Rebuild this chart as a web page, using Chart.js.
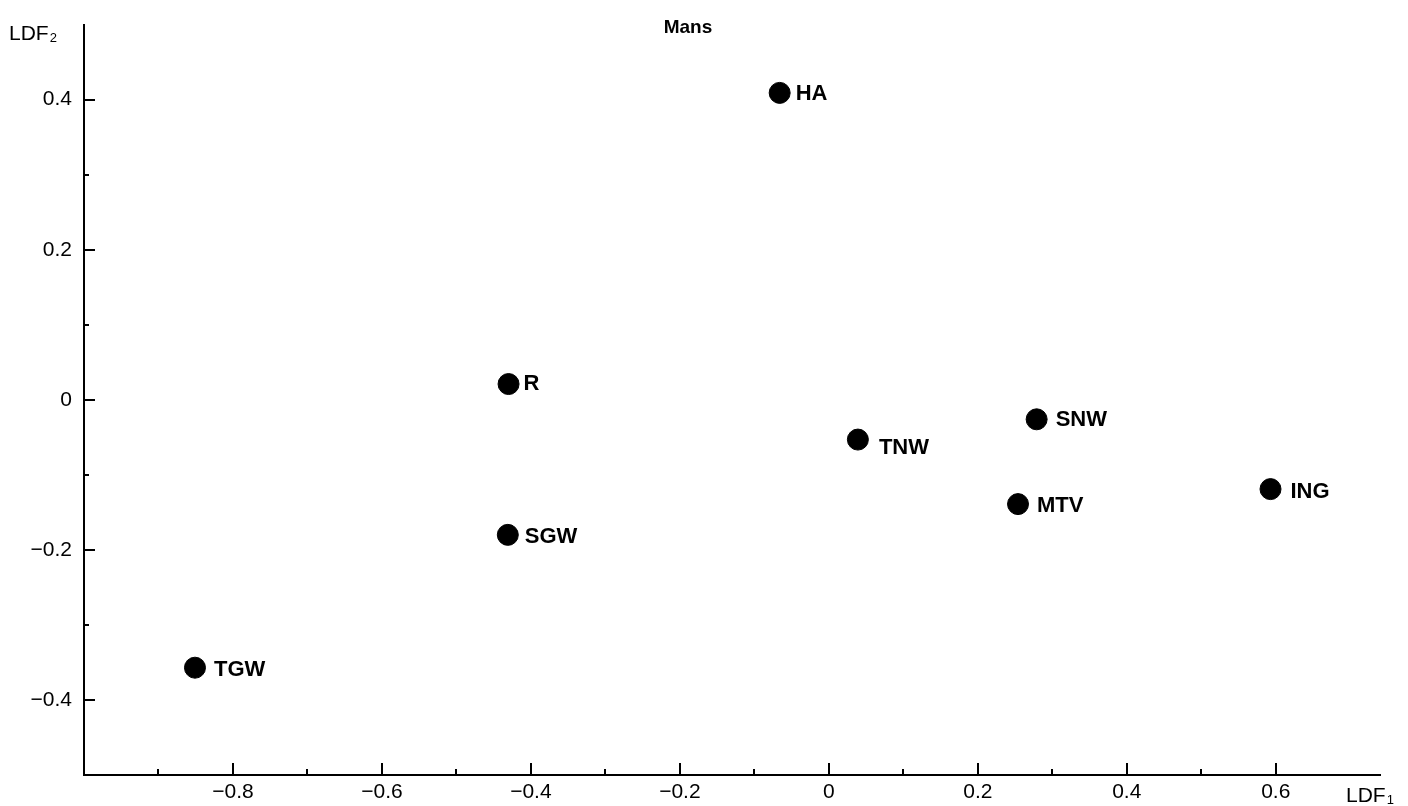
<!DOCTYPE html>
<html>
<head>
<meta charset="utf-8">
<title>Mans</title>
<script src="https://cdn.jsdelivr.net/npm/chart.js@4.4.1/dist/chart.umd.min.js"></script>
<style>
  html, body { margin: 0; padding: 0; background: #fff; }
  #wrap { width: 1408px; height: 806px; position: relative; }
</style>
</head>
<body>
<div id="wrap"><canvas id="ldfChart"></canvas></div>
<script>
// group means on the two discriminant functions
const groups = ["HA", "R", "SGW", "TGW", "TNW", "SNW", "MTV", "ING"];
const ldf1 = [-0.066, -0.430, -0.431, -0.851, 0.039, 0.279, 0.254, 0.593];
const ldf2 = [0.409, 0.021, -0.180, -0.357, -0.053, -0.026, -0.139, -0.119];

const xLabelled = [-0.8, -0.6, -0.4, -0.2, 0, 0.2, 0.4, 0.6];
const yLabelled = [-0.4, -0.2, 0, 0.2, 0.4];
const xTickMarks = [-0.9, -0.8, -0.7, -0.6, -0.5, -0.4, -0.3, -0.2, -0.1, 0, 0.1, 0.2, 0.3, 0.4, 0.5, 0.6];
const yTickMarks = [-0.4, -0.3, -0.2, -0.1, 0, 0.1, 0.2, 0.3, 0.4];

// label nudges (px) for each point name
const labelDx = [16, 15, 17, 19, 21, 19, 19, 20];
const labelDy = [1, 0, 2, 2, 8, 1, 2, 3];

const FONT = "'Liberation Sans', Arial, Helvetica, sans-serif";

function fmt(v) {
  const r = Math.round(v * 10) / 10;
  if (r === 0) return "0";
  return (r < 0 ? "\u2212" : "") + Math.abs(r).toFixed(1);
}

function isLabelled(list, v) {
  return list.some((t) => Math.abs(t - v) < 1e-6);
}

const inwardTicks = {
  id: "inwardTicks",
  afterDraw(chart) {
    const ctx = chart.ctx;
    const xs = chart.scales.x;
    const ys = chart.scales.y;
    const area = chart.chartArea;
    ctx.save();
    ctx.strokeStyle = "#000";
    ctx.lineWidth = 2;
    xTickMarks.forEach((v) => {
      const px = Math.round(xs.getPixelForValue(v));
      const len = isLabelled(xLabelled, v) ? 12 : 6;
      ctx.beginPath();
      ctx.moveTo(px, area.bottom);
      ctx.lineTo(px, area.bottom - len);
      ctx.stroke();
    });
    yTickMarks.forEach((v) => {
      const py = Math.round(ys.getPixelForValue(v));
      const len = isLabelled(yLabelled, v) ? 11 : 5;
      ctx.beginPath();
      ctx.moveTo(area.left, py);
      ctx.lineTo(area.left + len, py);
      ctx.stroke();
    });

    // axis names with subscripts, and the title
    ctx.fillStyle = "#000";
    ctx.textBaseline = "alphabetic";
    ctx.textAlign = "left";
    ctx.font = "21px " + FONT;
    ctx.fillText("LDF", 1346, 802);
    let w = ctx.measureText("LDF").width;
    ctx.font = "13px " + FONT;
    ctx.fillText("1", 1346 + w + 1, 804);

    ctx.font = "21px " + FONT;
    ctx.fillText("LDF", 9, 40);
    w = ctx.measureText("LDF").width;
    ctx.font = "13px " + FONT;
    ctx.fillText("2", 9 + w + 1, 42);

    ctx.font = "bold 19px " + FONT;
    ctx.textAlign = "center";
    ctx.fillText("Mans", 688, 33);
    ctx.restore();
  },
  afterDatasetsDraw(chart) {
    const ctx = chart.ctx;
    const meta = chart.getDatasetMeta(0);
    ctx.save();
    ctx.fillStyle = "#000";
    ctx.font = "bold 22px " + FONT;
    ctx.textAlign = "left";
    ctx.textBaseline = "middle";
    meta.data.forEach((pt, i) => {
      ctx.fillText(groups[i], pt.x + labelDx[i], pt.y + labelDy[i]);
    });
    ctx.restore();
  }
};

const ctx = document.getElementById("ldfChart").getContext("2d");
new Chart(ctx, {
  type: "scatter",
  data: {
    datasets: [{
      label: "Mans",
      data: groups.map((g, i) => ({ x: ldf1[i], y: ldf2[i] })),
      backgroundColor: "#000",
      borderColor: "#000",
      pointRadius: 10.5,
      pointHoverRadius: 10.5,
    }],
  },
  options: {
    responsive: true,
    maintainAspectRatio: false,
    animation: false,
    layout: { padding: { top: 19, right: 28, left: 0, bottom: 0 } },
    plugins: {
      legend: { display: false },
      tooltip: { enabled: false },
      title: { display: false },
    },
    scales: {
      x: {
        type: "linear",
        min: -1.0,
        max: 0.74,
        afterFit: (scale) => { scale.height = 31; },
        border: { display: true, color: "#000", width: 2 },
        grid: { display: false, drawTicks: false },
        afterBuildTicks: (scale) => {
          scale.ticks = xLabelled.map((v) => ({ value: v }));
        },
        ticks: {
          autoSkip: false,
          maxRotation: 0,
          padding: 5,
          color: "#000",
          font: { family: FONT, size: 21 },
          callback: (v) => fmt(v),
        },
      },
      y: {
        type: "linear",
        min: -0.5,
        max: 0.5,
        afterFit: (scale) => { scale.width = 84; },
        border: { display: true, color: "#000", width: 2 },
        grid: { display: false, drawTicks: false },
        afterBuildTicks: (scale) => {
          scale.ticks = yLabelled.map((v) => ({ value: v }));
        },
        ticks: {
          autoSkip: false,
          padding: 12,
          color: "#000",
          font: { family: FONT, size: 21 },
          callback: (v) => fmt(v),
        },
      },
    },
  },
  plugins: [inwardTicks],
});
</script>
</body>
</html>
